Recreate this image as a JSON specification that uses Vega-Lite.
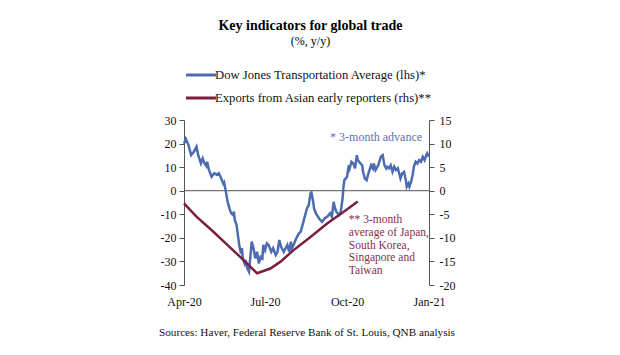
{
  "$schema": "https://vega.github.io/schema/vega-lite/v6.json",
  "autosize": "none",
  "width": 245,
  "height": 165,
  "padding": {"left": 184, "top": 120, "right": 191, "bottom": 70},
  "background": "white",
  "title": {
    "text": "Key indicators for global trade",
    "subtitle": "(%, y/y)",
    "font": "Liberation Serif",
    "fontSize": 14,
    "fontWeight": "bold",
    "color": "#000",
    "subtitleFont": "Liberation Serif",
    "subtitleFontSize": 12,
    "subtitleColor": "#000",
    "subtitlePadding": 3,
    "anchor": "middle",
    "frame": "group",
    "offset": 19,
    "dx": 4
  },
  "datasets": {
    "dji": [
      {"d": "2020-04-01", "v": 20}, {"d": "2020-04-03", "v": 22}, {"d": "2020-04-06", "v": 19.4}, {"d": "2020-04-09", "v": 15.1},
      {"d": "2020-04-12", "v": 16.5}, {"d": "2020-04-15", "v": 18.7}, {"d": "2020-04-17", "v": 15.1}, {"d": "2020-04-20", "v": 11.6},
      {"d": "2020-04-22", "v": 13.7}, {"d": "2020-04-24", "v": 11.6}, {"d": "2020-04-26", "v": 10.5}, {"d": "2020-04-27", "v": 12.3},
      {"d": "2020-04-29", "v": 8.8}, {"d": "2020-05-02", "v": 5.9}, {"d": "2020-05-05", "v": 7.4}, {"d": "2020-05-08", "v": 6.7},
      {"d": "2020-05-10", "v": 7.4}, {"d": "2020-05-12", "v": 5.9}, {"d": "2020-05-15", "v": 3.1}, {"d": "2020-05-16", "v": 3.6},
      {"d": "2020-05-18", "v": -0.4}, {"d": "2020-05-20", "v": -4.7}, {"d": "2020-05-22", "v": -7.5}, {"d": "2020-05-24", "v": -9.6},
      {"d": "2020-05-26", "v": -10.3}, {"d": "2020-05-27", "v": -8.9}, {"d": "2020-05-28", "v": -12.4}, {"d": "2020-05-30", "v": -14.6},
      {"d": "2020-06-01", "v": -20.2}, {"d": "2020-06-02", "v": -23}, {"d": "2020-06-04", "v": -26.6}, {"d": "2020-06-05", "v": -24.4},
      {"d": "2020-06-06", "v": -28.7}, {"d": "2020-06-08", "v": -30.8}, {"d": "2020-06-09", "v": -29.4}, {"d": "2020-06-11", "v": -32.9},
      {"d": "2020-06-13", "v": -34.4}, {"d": "2020-06-14", "v": -30.1}, {"d": "2020-06-15", "v": -25.9}, {"d": "2020-06-16", "v": -21.6},
      {"d": "2020-06-18", "v": -24.4}, {"d": "2020-06-20", "v": -28.7}, {"d": "2020-06-22", "v": -25.9}, {"d": "2020-06-24", "v": -30.8},
      {"d": "2020-06-26", "v": -28}, {"d": "2020-06-28", "v": -28.7}, {"d": "2020-06-29", "v": -23}, {"d": "2020-07-01", "v": -25.2},
      {"d": "2020-07-03", "v": -22.3}, {"d": "2020-07-05", "v": -23}, {"d": "2020-07-08", "v": -25.9}, {"d": "2020-07-10", "v": -24.4},
      {"d": "2020-07-13", "v": -27.3}, {"d": "2020-07-15", "v": -25.9}, {"d": "2020-07-17", "v": -20.9}, {"d": "2020-07-19", "v": -23.8},
      {"d": "2020-07-22", "v": -25.9}, {"d": "2020-07-24", "v": -24.4}, {"d": "2020-07-26", "v": -23}, {"d": "2020-07-28", "v": -25.9},
      {"d": "2020-07-30", "v": -21.6}, {"d": "2020-07-31", "v": -24.4}, {"d": "2020-08-02", "v": -23}, {"d": "2020-08-05", "v": -20.2},
      {"d": "2020-08-08", "v": -18.1}, {"d": "2020-08-10", "v": -17.4}, {"d": "2020-08-13", "v": -13.2}, {"d": "2020-08-15", "v": -10.3},
      {"d": "2020-08-17", "v": -7.5}, {"d": "2020-08-19", "v": -6.1}, {"d": "2020-08-21", "v": -1.1}, {"d": "2020-08-22", "v": -0.7},
      {"d": "2020-08-24", "v": -4.7}, {"d": "2020-08-25", "v": -7.5}, {"d": "2020-08-27", "v": -9.6}, {"d": "2020-08-29", "v": -10.8},
      {"d": "2020-08-31", "v": -12}, {"d": "2020-09-03", "v": -13.2}, {"d": "2020-09-06", "v": -11.7}, {"d": "2020-09-09", "v": -11},
      {"d": "2020-09-12", "v": -9.6}, {"d": "2020-09-14", "v": -11}, {"d": "2020-09-16", "v": -4.7}, {"d": "2020-09-17", "v": -6.8},
      {"d": "2020-09-19", "v": -8.9}, {"d": "2020-09-22", "v": -10.3}, {"d": "2020-09-24", "v": -8.9}, {"d": "2020-09-26", "v": -3.2},
      {"d": "2020-09-27", "v": 1.7}, {"d": "2020-09-28", "v": 4.5}, {"d": "2020-10-01", "v": 5.9}, {"d": "2020-10-03", "v": 10.8},
      {"d": "2020-10-04", "v": 9.5}, {"d": "2020-10-06", "v": 12.3}, {"d": "2020-10-08", "v": 11.6}, {"d": "2020-10-10", "v": 9.5},
      {"d": "2020-10-12", "v": 15.1}, {"d": "2020-10-13", "v": 13}, {"d": "2020-10-16", "v": 11.6}, {"d": "2020-10-18", "v": 10.8},
      {"d": "2020-10-19", "v": 8}, {"d": "2020-10-21", "v": 5.2}, {"d": "2020-10-23", "v": 4.5}, {"d": "2020-10-25", "v": 7.4},
      {"d": "2020-10-28", "v": 10.8}, {"d": "2020-10-30", "v": 9.5}, {"d": "2020-10-31", "v": 11.6}, {"d": "2020-11-02", "v": 8.8},
      {"d": "2020-11-05", "v": 10.8}, {"d": "2020-11-08", "v": 14.4}, {"d": "2020-11-10", "v": 15.1}, {"d": "2020-11-12", "v": 10.8},
      {"d": "2020-11-14", "v": 9.5}, {"d": "2020-11-15", "v": 10.2}, {"d": "2020-11-17", "v": 9.5}, {"d": "2020-11-19", "v": 10.8},
      {"d": "2020-11-21", "v": 8}, {"d": "2020-11-23", "v": 10.2}, {"d": "2020-11-25", "v": 8.8}, {"d": "2020-11-27", "v": 9.5},
      {"d": "2020-11-29", "v": 6.7}, {"d": "2020-11-30", "v": 5.2}, {"d": "2020-12-02", "v": 7.4}, {"d": "2020-12-04", "v": 8},
      {"d": "2020-12-06", "v": 4.5}, {"d": "2020-12-07", "v": 1.7}, {"d": "2020-12-09", "v": 3.1}, {"d": "2020-12-10", "v": 1.7},
      {"d": "2020-12-12", "v": 3.8}, {"d": "2020-12-14", "v": 7.4}, {"d": "2020-12-15", "v": 10.2}, {"d": "2020-12-17", "v": 12.3},
      {"d": "2020-12-19", "v": 11.6}, {"d": "2020-12-21", "v": 13}, {"d": "2020-12-23", "v": 12.3}, {"d": "2020-12-25", "v": 14.4},
      {"d": "2020-12-27", "v": 13}, {"d": "2020-12-29", "v": 15.1}, {"d": "2020-12-30", "v": 15.9}, {"d": "2021-01-01", "v": 14.4}
    ],
    "exports": [
      {"d": "2020-04-01", "v": -2.7}, {"d": "2020-04-15", "v": -5.5}, {"d": "2020-05-04", "v": -8.7}, {"d": "2020-05-22", "v": -11.9},
      {"d": "2020-06-09", "v": -15.1}, {"d": "2020-06-22", "v": -17.5}, {"d": "2020-07-07", "v": -16.5}, {"d": "2020-07-18", "v": -15.1},
      {"d": "2020-08-02", "v": -12.6}, {"d": "2020-08-21", "v": -9.8}, {"d": "2020-09-09", "v": -6.9}, {"d": "2020-09-27", "v": -4.5},
      {"d": "2020-10-13", "v": -2.3}
    ],
    "noteBlue": [
      {"d": "2020-09-12", "v": 22.6, "t": "* 3-month advance"}
    ],
    "noteRed": [
      {"d": "2020-10-03", "v": -12.4, "t": "** 3-month"},
      {"d": "2020-10-03", "v": -17.8, "t": "average of Japan,"},
      {"d": "2020-10-03", "v": -23.3, "t": "South Korea,"},
      {"d": "2020-10-03", "v": -28.7, "t": "Singapore and"},
      {"d": "2020-10-03", "v": -33.9, "t": "Taiwan"}
    ]
  },
  "encoding": {
    "x": {
      "field": "d",
      "type": "temporal",
      "scale": {"domain": [{"year": 2020, "month": 4, "date": 1}, {"year": 2021, "month": 1, "date": 1}]},
      "axis": {
        "title": "Sources: Haver, Federal Reserve Bank of St. Louis, QNB analysis",
        "titleFont": "Liberation Serif",
        "titleFontSize": 11.2,
        "titleFontWeight": "normal",
        "titleColor": "#111",
        "titlePadding": 19,
        "values": [
          {"year": 2020, "month": 4, "date": 1},
          {"year": 2020, "month": 7, "date": 1},
          {"year": 2020, "month": 10, "date": 1},
          {"year": 2021, "month": 1, "date": 1}
        ],
        "format": "%b-%y",
        "domain": false,
        "ticks": false,
        "grid": false,
        "labelPadding": 11,
        "labelFont": "Liberation Serif",
        "labelFontSize": 12,
        "labelColor": "#111",
        "labelFlush": false,
        "labelOverlap": false
      }
    }
  },
  "layer": [
    {
      "encoding": {
        "y": {
          "field": "v",
          "type": "quantitative",
          "scale": {"domain": [-40, 30], "nice": false, "zero": false},
          "axis": {
            "title": null,
            "orient": "left",
            "values": [-40, -30, -20, -10, 0, 10, 20, 30],
            "labelExpr": "'' + datum.value",
            "labelOverlap": false,
            "grid": false,
            "domainColor": "#555",
            "tickColor": "#555",
            "tickSize": 5,
            "labelPadding": 3,
            "labelFont": "Liberation Serif",
            "labelFontSize": 12,
            "labelColor": "#111"
          }
        }
      },
      "layer": [
        {
          "data": {"values": [{"v": 0}]},
          "mark": {"type": "rule", "color": "#555", "strokeWidth": 1},
          "encoding": {"x": null}
        },
        {
          "data": {"name": "dji"},
          "mark": {"type": "line", "strokeWidth": 2.5, "interpolate": "linear"},
          "encoding": {
            "color": {
              "datum": "Dow Jones Transportation Average (lhs)*",
              "scale": {
                "domain": ["Dow Jones Transportation Average (lhs)*", "Exports from Asian early reporters (rhs)**"],
                "range": ["#4c6bb0", "#7b1f3f"]
              },
              "legend": {
                "orient": "none",
                "legendX": 8,
                "legendY": -54,
                "direction": "vertical",
                "title": null,
                "symbolType": "M-2,0H2",
                "symbolSize": 225,
                "symbolStrokeWidth": 3,
                "labelFont": "Liberation Serif",
                "labelFontSize": 12.7,
                "labelColor": "#111",
                "labelLimit": 400,
                "labelOffset": 5,
                "rowPadding": 7,
                "padding": 0
              }
            }
          }
        },
        {
          "data": {"name": "noteBlue"},
          "mark": {"type": "text", "align": "left", "baseline": "middle", "font": "Liberation Serif", "fontSize": 12, "color": "#5a72b5"},
          "encoding": {"text": {"field": "t"}}
        },
        {
          "data": {"name": "noteRed"},
          "mark": {"type": "text", "align": "left", "baseline": "middle", "font": "Liberation Serif", "fontSize": 11.5, "color": "#8a2c4c"},
          "encoding": {"text": {"field": "t"}}
        }
      ]
    },
    {
      "data": {"name": "exports"},
      "mark": {"type": "line", "strokeWidth": 2.5},
      "encoding": {
        "y": {
          "field": "v",
          "type": "quantitative",
          "scale": {"domain": [-20, 15], "nice": false, "zero": false},
          "axis": {
            "title": null,
            "orient": "right",
            "values": [-20, -15, -10, -5, 0, 5, 10, 15],
            "labelExpr": "'' + datum.value",
            "labelOverlap": false,
            "grid": false,
            "domainColor": "#555",
            "tickColor": "#555",
            "tickSize": 5,
            "labelPadding": 5,
            "labelFont": "Liberation Serif",
            "labelFontSize": 12,
            "labelColor": "#111"
          }
        },
        "color": {"datum": "Exports from Asian early reporters (rhs)**"}
      }
    }
  ],
  "resolve": {"scale": {"y": "independent"}},
  "config": {
    "view": {"stroke": null},
    "font": "Liberation Serif"
  }
}
